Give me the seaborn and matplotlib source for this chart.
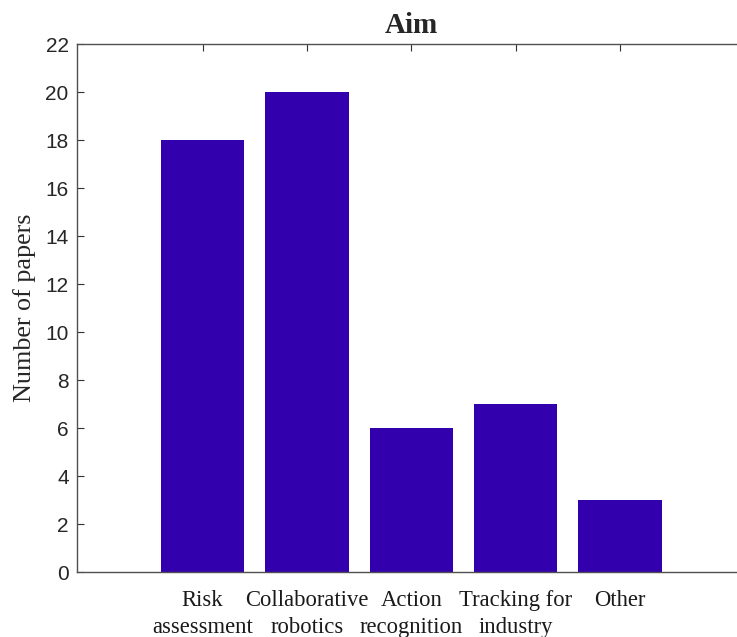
import matplotlib
matplotlib.use("Agg")
import matplotlib.pyplot as plt
import seaborn as sns
import pandas as pd

# data
categories = ["Risk\nassessment", "Collaborative\nrobotics", "Action\nrecognition",
              "Tracking for\nindustry", "Other"]
papers = [18, 20, 6, 7, 3]

df = pd.DataFrame({"aim": categories, "papers": papers})

sns.set_style("white")
plt.rcParams["font.family"] = ["Liberation Sans", "DejaVu Sans"]

fig = plt.figure(figsize=(7.37, 6.37), dpi=100)
ax = fig.add_axes([0.1045, 0.1016, 0.9072, 0.8293])

sns.barplot(data=df, x="aim", y="papers", color="#3300AD", saturation=1,
            width=0.8, edgecolor="none", ax=ax)

ax.set_xlim(-1.205, 5.205)
ax.set_ylim(0, 22)
ax.set_yticks(range(0, 23, 2))

for side in ["left", "top", "bottom"]:
    ax.spines[side].set_visible(True)
    ax.spines[side].set_color("#505050")
    ax.spines[side].set_linewidth(1.0)
ax.spines["right"].set_visible(False)

ax.tick_params(axis="both", direction="in", length=5, width=0.8, color="#303030")
ax.tick_params(axis="x", top=True, bottom=True, pad=12.5)
ax.tick_params(axis="y", left=True, right=False, labelsize=15, pad=6, labelcolor="#262626")

for lab in ax.get_xticklabels():
    lab.set_fontfamily(["Liberation Serif", "DejaVu Serif"])
    lab.set_fontsize(16.3)
    lab.set_color("#1a1a1a")
    lab.set_linespacing(1.38)

ax.set_xlabel("")
ax.set_ylabel("Number of papers", family=["Liberation Serif", "DejaVu Serif"],
              fontsize=18.8, color="#262626", labelpad=7)
ax.set_title("Aim", family=["Liberation Serif", "DejaVu Serif"], fontsize=21,
             fontweight="bold", pad=8)

fig.savefig("out.png", dpi=100)
